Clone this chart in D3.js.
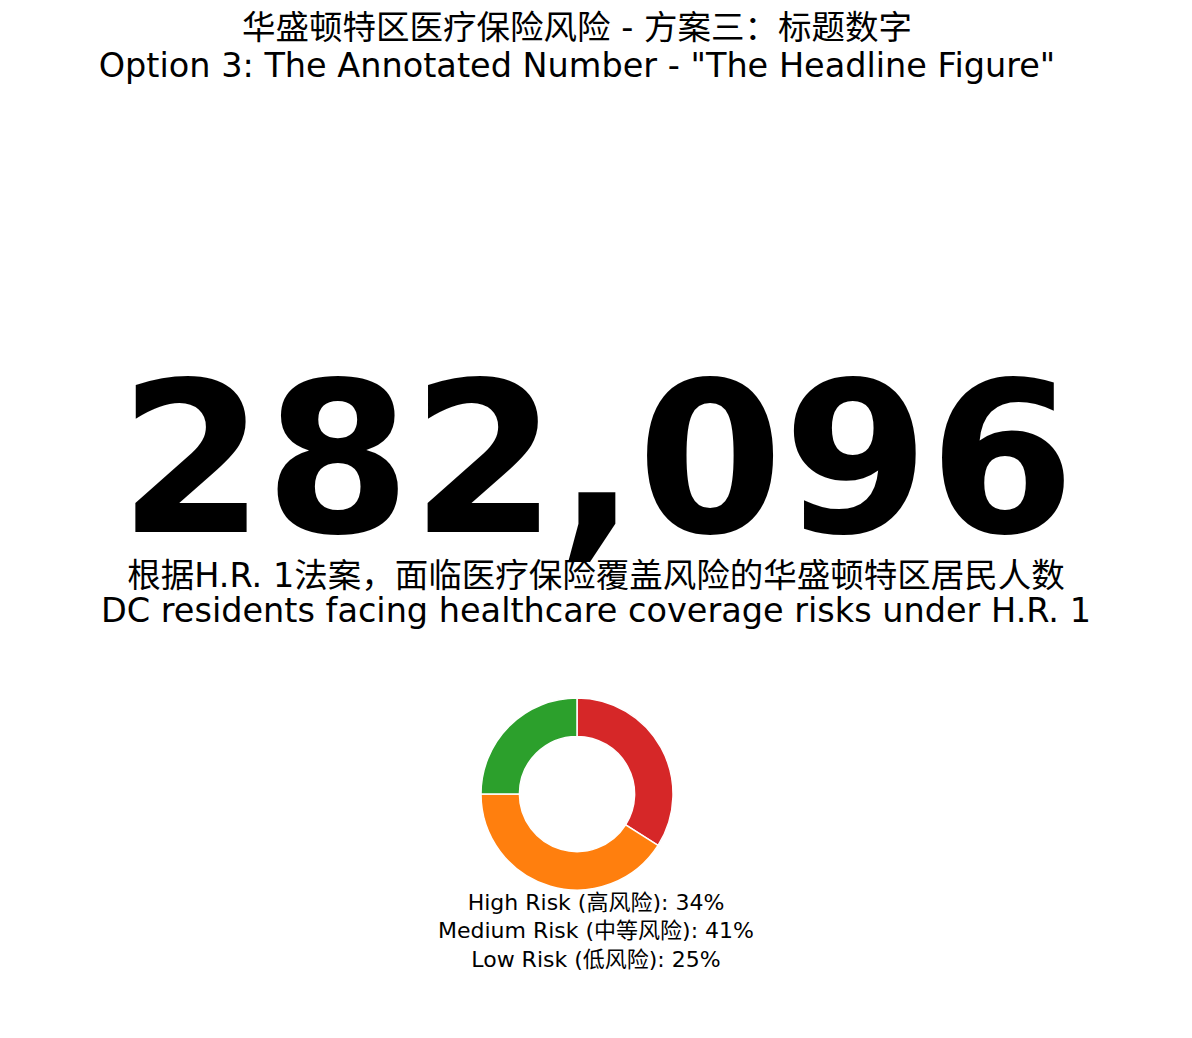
<!DOCTYPE html>
<html>
<head>
<meta charset="utf-8">
<script src="https://cdn.jsdelivr.net/npm/d3@7"></script>
<style>
  html, body { margin: 0; padding: 0; background: #fff; }
  text { font-family: "DejaVu Sans", "Noto Sans CJK SC", sans-serif; }
</style>
</head>
<body>
<div id="chart"></div>
<script>
const titleLines = ["华盛顿特区医疗保险风险 - 方案三：标题数字", "Option 3: The Annotated Number - \"The Headline Figure\""];
const headline = 282096;
const subtitleLines = ["根据H.R. 1法案，面临医疗保险覆盖风险的华盛顿特区居民人数", "DC residents facing healthcare coverage risks under H.R. 1"];
const riskLabels = ["High Risk (高风险)", "Medium Risk (中等风险)", "Low Risk (低风险)"];
const riskValues = [34, 41, 25];
const riskColors = ["#d62728", "#ff7f0e", "#2ca02c"];

function drawHeadline() {
    const width = 1192, height = 1038;

    const svg = d3.select("#chart")
        .append("svg")
        .attr("width", width)
        .attr("height", height);

    // title (two lines)
    svg.selectAll(".title-line")
        .data(titleLines)
        .enter()
        .append("text")
        .attr("class", "title-line")
        .attr("x", 577)
        .attr("y", (d, i) => 39 + i * 38)
        .attr("text-anchor", "middle")
        .style("font-size", "33.5px")
        .text(d => d);

    // the big number
    svg.append("text")
        .attr("x", 597)
        .attr("y", 532)
        .attr("text-anchor", "middle")
        .style("font-size", "210px")
        .style("font-weight", "bold")
        .text(d3.format(",")(headline));

    svg.selectAll(".sub-line")
        .data(subtitleLines)
        .enter()
        .append("text")
        .attr("class", "sub-line")
        .attr("x", 596)
        .attr("y", (d, i) => 587 + i * 35)
        .attr("text-anchor", "middle")
        .style("font-size", "33.5px")
        .text(d => d);

    // donut, clockwise from 12 o'clock
    const radius = 96;
    const pie = d3.pie().sort(null);
    const arc = d3.arc().innerRadius(radius * 0.6).outerRadius(radius);

    const donut = svg.append("g")
        .attr("transform", `translate(577,794)`);

    donut.selectAll("path")
        .data(pie(riskValues))
        .enter()
        .append("path")
        .attr("d", arc)
        .attr("fill", (d, i) => riskColors[i])
        .attr("stroke", "#fff")
        .attr("stroke-width", 1.5);

    svg.selectAll(".legend-line")
        .data(riskLabels)
        .enter()
        .append("text")
        .attr("class", "legend-line")
        .attr("x", 596)
        .attr("y", (d, i) => 910 + i * 28.3)
        .attr("text-anchor", "middle")
        .style("font-size", "22px")
        .text((d, i) => `${d}: ${riskValues[i]}%`);
}

window.addEventListener("load", drawHeadline);
</script>
</body>
</html>
